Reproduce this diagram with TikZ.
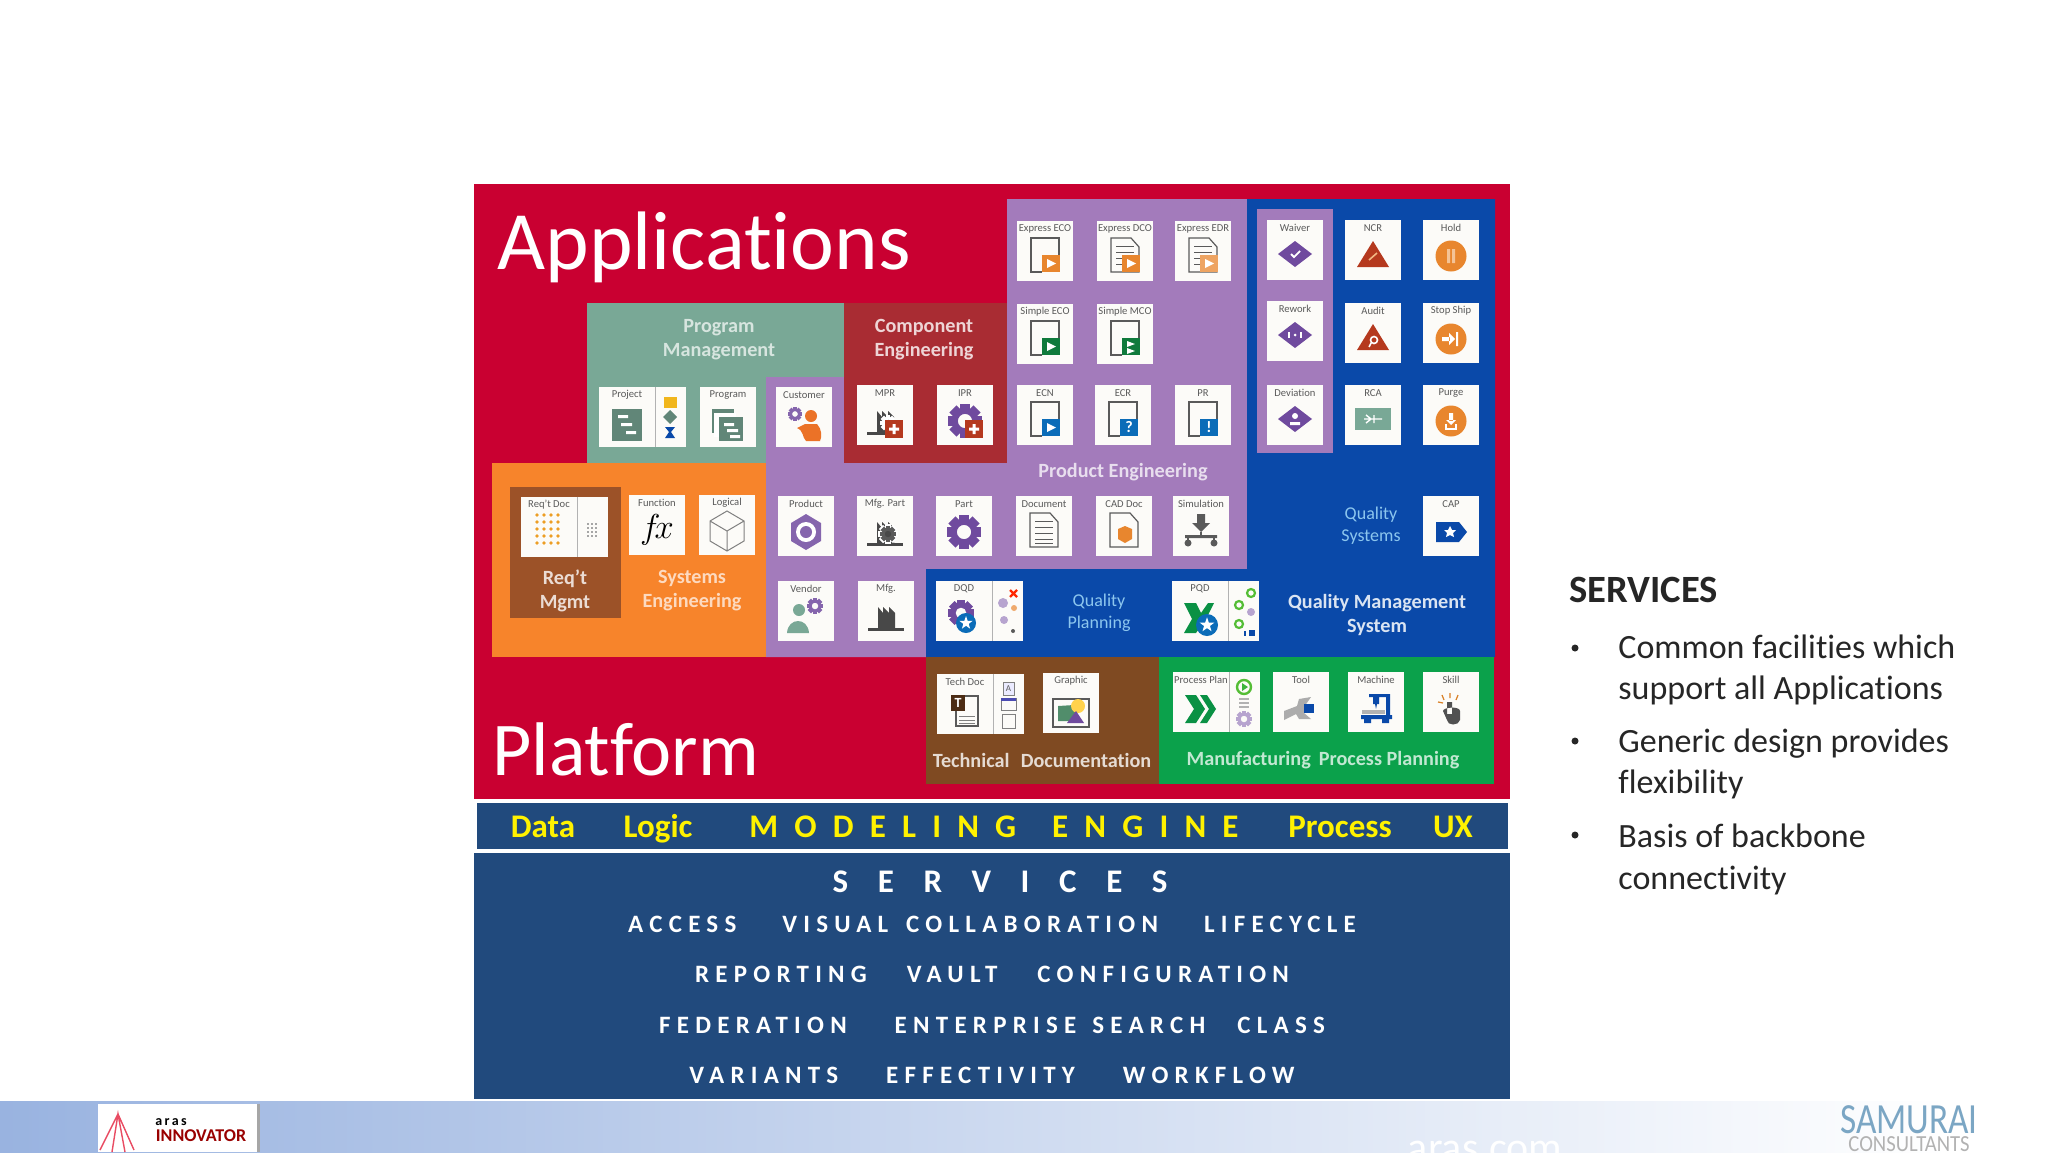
\documentclass[tikz,border=0pt]{standalone}
\usepackage{fontspec}
\setmainfont[Ligatures=NoCommon]{Carlito}
\newfontfamily\engfont[LetterSpace=49]{Carlito}
\newfontfamily\svcfont[LetterSpace=90]{Carlito}
\newfontfamily\itemfont[LetterSpace=25]{Carlito}
\usetikzlibrary{positioning}
\definecolor{appred}{HTML}{C90031}
\definecolor{pmgreen}{HTML}{79A896}
\definecolor{cered}{HTML}{A92C33}
\definecolor{pepurple}{HTML}{A37BBB}
\definecolor{qmblue}{HTML}{0A49A9}
\definecolor{seorange}{HTML}{F7842B}
\definecolor{rqbrown}{HTML}{9C5228}
\definecolor{tdbrown}{HTML}{7F4A22}
\definecolor{mpgreen}{HTML}{0BA14B}
\definecolor{navy}{HTML}{214A7D}
\definecolor{icgray}{HTML}{5A5A5A}
\definecolor{icorange}{HTML}{E8862E}
\definecolor{icgreen}{HTML}{0F7A3C}
\definecolor{icblue}{HTML}{0B6CB8}
\definecolor{icpurple}{HTML}{6F4A9E}
\definecolor{icred}{HTML}{B5391E}
\definecolor{ictile}{HTML}{FCFBF8}
\definecolor{qmsoft}{HTML}{8CC6EE}
\definecolor{barleft}{HTML}{99B3E0}
\definecolor{barmid}{HTML}{C3D3F0}
\definecolor{samblue}{HTML}{7BA6C4}
\tikzset{
  tile/.style={fill=ictile,minimum width=28pt,minimum height=30pt,inner sep=0pt},
  strip/.style={fill=ictile,minimum height=30pt,inner sep=0pt},
  tilelab/.style={font=\fontsize{5.3}{6}\selectfont,text=icgray,inner sep=0pt},
  group/.style={font=\bfseries\fontsize{10.1}{12}\selectfont,align=center,inner sep=0pt},
  soft/.style={font=\fontsize{9}{11}\selectfont,align=center,text=qmsoft,inner sep=0pt},
  title/.style={text=white,anchor=base west,inner sep=0pt},
  band/.style={font=\bfseries\fontsize{16.5}{17}\selectfont,text=yellow,inner sep=0pt,anchor=base},
  svcline/.style={font=\itemfont\bfseries\fontsize{12.5}{13}\selectfont,text=white,inner sep=0pt},
  body/.style={font=\fontsize{17}{20}\selectfont,text=black!85,anchor=base west,inner sep=0pt},
  sheet/.style={icgray,line width=.6pt},
}
\newcommand{\gear}[4]{\begin{scope}[shift={(#1,#2)}]\foreach \g in {0,45,...,315}\fill[#4,rotate=\g] (-.3*#3,-#3) rectangle (.3*#3,-.6*#3);\fill[#4,even odd rule] (0,0) circle[radius=.78*#3] (0,0) circle[radius=.42*#3];\end{scope}}
\newcommand{\plus}[3]{\fill[icred] (#1-9,#2-9) rectangle (#1+9,#2+9);\fill[white] (#1-5,#2-1.5) rectangle (#1+5,#2+1.5) (#1-1.5,#2-5) rectangle (#1+1.5,#2+5);}
\newcommand{\starmark}[4]{\begin{scope}[shift={(#1,#2)}]\fill[icblue] (0,0) circle[radius=#3];\fill[#4] (-90:.7*#3)--(-54:.28*#3)--(-18:.7*#3)--(18:.28*#3)--(54:.7*#3)--(90:.28*#3)--(126:.7*#3)--(162:.28*#3)--(198:.7*#3)--(234:.28*#3)--cycle;\end{scope}}
\newcommand{\openSheet}{\draw[sheet] (-3,15)--(-14,15)--(-14,-19)--(14,-19)--(14,-2);}
\newcommand{\lineSheet}{\draw[sheet] (-14,-19)--(6,-19)--(14,-10)--(14,15)--(-14,15)--cycle;\foreach \l in {-11,-5,1,7}\draw[sheet,line width=.4pt] (-9,\l)--(9,\l);}
\newcommand{\play}{\fill[white] (2,2)--(11,6.5)--(2,11)--cycle;}
\newcommand{\factory}[1]{\fill[#1] (-18,11) rectangle (18,14);\fill[#1] (-8,11)--(-8,-10)--(-3,-4)--(-3,-10)--(3,-4)--(3,-10)--(9,-4)--(9,11)--cycle;}
\newcommand{\icEcoO}{\openSheet\fill[icorange] (-3,-2) rectangle (15,15);\play}
\newcommand{\icEcoG}{\openSheet\fill[icgreen] (-3,-2) rectangle (15,15);\play}
\newcommand{\icMco}{\openSheet\fill[icgreen] (-3,-2) rectangle (15,15);\fill[white] (2,1)--(10,4)--(2,7)--cycle (2,8)--(10,11)--(2,14)--cycle;}
\newcommand{\icEcoB}{\openSheet\fill[icblue] (-3,-2) rectangle (15,15);\play}
\newcommand{\icEcr}{\openSheet\fill[icblue] (-3,-2) rectangle (15,15);\node[text=white,font=\bfseries\fontsize{8}{8}\selectfont,inner sep=0pt] (\n q) at (6,6.5){?};}
\newcommand{\icPr}{\openSheet\fill[icblue] (-3,-2) rectangle (15,15);\node[text=white,font=\bfseries\fontsize{8}{8}\selectfont,inner sep=0pt] (\n q) at (6,6.5){!};}
\newcommand{\icDco}{\lineSheet\fill[icorange] (-3,-2) rectangle (15,15);\play}
\newcommand{\icEdr}{\lineSheet\fill[icorange!75!white] (-3,-2) rectangle (15,15);\play}
\newcommand{\icDoc}{\lineSheet\draw[sheet,line width=.4pt] (-9,11)--(9,11);}
\newcommand{\icCad}{\draw[sheet] (-14,-19)--(6,-19)--(14,-10)--(14,15)--(-14,15)--cycle;\fill[icorange] (-6,-3)--(1,-6)--(8,-3)--(8,7)--(1,11)--(-6,7)--cycle;}
\newcommand{\diamondbase}{\fill[icpurple] (-17,-2)--(0,-15)--(17,-2)--(0,11)--cycle;}
\newcommand{\icWaiver}{\diamondbase\draw[white,line width=.9pt] (-4,-2)--(-1,1)--(5,-5);}
\newcommand{\icRework}{\diamondbase\draw[white,line width=.8pt] (-6,-5)--(-6,1) (6,-5)--(6,1);\fill[white] (0,-2) circle[radius=1.5];}
\newcommand{\icDev}{\diamondbase\fill[white] (0,-5) circle[radius=3] (-5,1) rectangle (5,4);}
\newcommand{\icNcr}{\fill[icred] (-16,11)--(0,-15)--(16,11)--cycle;\draw[icorange!60!white,line width=.8pt] (-4,4)--(4,-3);}
\newcommand{\icAudit}{\fill[icred] (-16,11)--(0,-15)--(16,11)--cycle;\draw[white,line width=.8pt] (1,1) circle[radius=3.5] (-2,4)--(-4,8);}
\newcommand{\icHold}{\fill[icorange] (0,0) circle[radius=15.5];\fill[icorange!50!white] (-4,-7) rectangle (-1,7) (1,-7) rectangle (4,7);}
\newcommand{\icStop}{\fill[icorange] (0,0) circle[radius=15.5];\fill[white] (-9,-2) rectangle (-1,2) (-2,-6)--(4,0)--(-2,6)--cycle (5,-7) rectangle (7,7);}
\newcommand{\icPurge}{\fill[icorange] (0,0) circle[radius=15.5];\fill[white] (-2,-8) rectangle (2,0) (-5,-1)--(5,-1)--(0,4)--cycle;\draw[white,line width=.6pt] (-5,3)--(-5,8)--(5,8)--(5,3);}
\newcommand{\icRca}{\fill[pmgreen] (-18,-13) rectangle (18,9);\draw[white,line width=.7pt] (-9,-2)--(9,-2) (-7,-6)--(-2,-2)--(-7,2) (1,-6)--(1,2);}
\newcommand{\icProduct}{\fill[icpurple!85!white] (0,-18)--(15,-9)--(15,9)--(0,18)--(-15,9)--(-15,-9)--cycle;\fill[white] (0,0) circle[radius=10];\fill[icpurple!85!white] (0,0) circle[radius=6];}
\newcommand{\icPart}{\gear{0}{0}{17}{icpurple}}
\newcommand{\icMfgP}{\factory{icgray!80!black}\gear{3}{2}{10}{white}\gear{3}{2}{8}{icgray}}
\newcommand{\icMfg}{\factory{icgray!80!black}}
\newcommand{\icMpr}{\factory{icgray!80!black}\gear{3}{2}{8}{white}\plus{9}{8}{}}
\newcommand{\icIpr}{\gear{0}{0}{17}{icpurple}\plus{9}{8}{}}
\newcommand{\icVendor}{\fill[pmgreen] (-7,-7) circle[radius=6];\fill[pmgreen] (-19,16) .. controls (-18,0) and (2,0) .. (3,16)--cycle;\gear{9}{-11}{8}{icpurple!85!white}}
\newcommand{\icCustomer}{\gear{-9}{-9}{7}{icpurple!85!white}\fill[icorange!85!red] (7,-7) circle[radius=6];\fill[icorange!85!red] (-7,5)--(1,1)--(13,1) .. controls (18,6) and (18,14) .. (16,18)--(2,18) .. controls (-2,14) and (0,8) .. (-7,5)--cycle;}
\newcommand{\icFx}{\node[font=\bfseries\fontsize{19}{19}\selectfont,inner sep=0pt] (\n q) at (0,-1){$f\!x$};}
\newcommand{\icLogical}{\draw[gray,line width=.5pt] (0,-20)--(17,-10)--(17,10)--(0,20)--(-17,10)--(-17,-10)--cycle (-17,-10)--(0,0)--(17,-10) (0,0)--(0,20);}
\newcommand{\icSim}{\fill[icgray] (-4,-18) rectangle (4,-9) (-9,-9)--(9,-9)--(0,0)--cycle;\fill[icgray] (-16,3) rectangle (16,6) (-13,11) circle[radius=3.5] (13,11) circle[radius=3.5];\draw[icgray,line width=1pt] (0,0)--(0,4) (-13,5)--(-13,10) (13,5)--(13,10);}
\newcommand{\icCap}{\fill[qmblue] (-15,-10)--(8,-10)--(16,0)--(8,10)--(-15,10)--cycle;\fill[white] (-1,-6)--(1,-2)--(5,-2)--(2,1)--(3,5)--(-1,3)--(-5,5)--(-4,1)--(-7,-2)--(-3,-2)--cycle;}
\newcommand{\icDqd}{\gear{-3}{-4}{13}{icpurple}\starmark{2}{6}{10}{white}}
\newcommand{\icPqd}{\fill[mpgreen!90!black] (-16,-14)--(-4,-14)--(1,-4)--(8,-14)--(14,-14)--(6,2)--(-4,16)--(-16,16)--(-8,2)--cycle;\starmark{7}{8}{11}{white}}
\newcommand{\icTech}{\draw[sheet] (-9,-14) rectangle (13,16);\fill[tdbrown!60!black] (-14,-15) rectangle (0,1);\node[text=white,font=\bfseries\fontsize{7}{7}\selectfont,inner sep=0pt] (\n q) at (-7,-7){T};\foreach \l in {6,10,13}\draw[gray,line width=.3pt] (-6,\l)--(10,\l);}
\newcommand{\icGraphic}{\draw[icgray,line width=.7pt] (-18,-10) rectangle (18,18);\fill[mpgreen!40!gray] (-13,12)--(-13,-3)--(3,-4)--(5,12)--cycle;\fill[orange!50!yellow!70!white] (7,-3) circle[radius=7];\fill[icpurple] (-4,14)--(5,2)--(13,14)--cycle;}
\newcommand{\icPlan}{\fill[mpgreen!90!black] (-16,-13)--(-5,-13)--(4,1)--(-5,15)--(-16,15)--(-7,1)--cycle (-1,-13)--(6,-13)--(15,1)--(6,15)--(-1,15)--(8,1)--cycle;}
\newcommand{\icTool}{\fill[gray!65] (-17,12)--(-17,3)--(-4,-2)--(-2,-9)--(10,-11)--(3,-1)--(3,5)--(10,11)--(-2,11)--(-5,6)--cycle;\fill[qmblue] (3,-4) rectangle (13,5);}
\newcommand{\icMachine}{\fill[qmblue] (-7,-14) rectangle (14,-11) (10,-14) rectangle (14,10) (-3,-14) rectangle (3,-4) (-1,-4)--(1,-4)--(0,1)--cycle;\fill[gray!60] (-14,2) rectangle (9,6);\fill[qmblue] (-15,7) rectangle (16,11) (-12,11) rectangle (-5,15) (6,11) rectangle (13,15);}
\newcommand{\icSkill}{\fill[icgray!90!black] (-4,-6) rectangle (1,6) (-8,3) .. controls (-8,-1) and (9,-2) .. (9,3)--(9,12) .. controls (8,18) and (-4,18) .. (-4,12)--cycle;\draw[orange!70!gray,line width=.6pt] (-9,-13)--(-7,-8) (-1,-15)--(-1,-10) (7,-13)--(5,-8) (-13,-6)--(-8,-5);}
\newcommand{\icReq}{\foreach \p in {-12,-5,2,9}\foreach \q in {-12,-5,2,9,16}\fill[icorange!80!yellow] (\p,\q-6) circle[radius=1.8];}
\newcommand{\icProject}{\fill[pmgreen!80!black] (-15,-14) rectangle (15,18);\fill[white] (-9,-8) rectangle (1,-5) (-6,0) rectangle (5,3) (-1,8) rectangle (9,11);}
\newcommand{\icProgram}{\fill[pmgreen!80!black] (-16,-14) rectangle (6,10);\fill[white] (-14,-10) rectangle (8,14);\fill[pmgreen!80!black] (-9,-6) rectangle (15,18);\fill[white] (-4,0) rectangle (6,3) (-1,6) rectangle (10,9) (2,12) rectangle (12,15);}
\newcommand{\stProject}{\fill[icorange!60!yellow] (-6,-20) rectangle (7,-9);\fill[pmgreen!80!black] (0,-7)--(7,0)--(0,7)--(-7,0)--cycle;\fill[qmblue] (-5,10)--(5,10)--(1,15)--(5,21)--(-5,21)--(-1,15)--cycle;}
\newcommand{\stReq}{\foreach \p in {-4,0,4}\foreach \q in {-3,1,5,9}\fill[gray!70] (\p-1,\q-1) rectangle (\p+1,\q+1);}
\newcommand{\stDqd}{\draw[red!70!orange,line width=1.2pt] (3,-21)--(10,-14) (3,-14)--(10,-21);\fill[icpurple!50!white] (-4,-8) circle[radius=5] (-3,9) circle[radius=4];\fill[icorange!70!white] (7,-3) circle[radius=3];\fill[icgray] (6,20) circle[radius=2];}
\newcommand{\stTech}{\draw[gray,line width=.4pt,fill=blue!8] (-5,-22) rectangle (6,-9);\node[text=icgray,font=\fontsize{4.5}{5}\selectfont,inner sep=0pt] (\n s) at (.5,-15.5){A};\draw[gray,line width=.4pt] (-7,-6) rectangle (8,6);\fill[gray!60!blue] (-7,-6) rectangle (8,-3);\draw[gray,line width=.4pt] (-6,10) rectangle (7,24);}
\newcommand{\stPqd}{\draw[mpgreen!70!yellow,line width=1.1pt] (8,-18) circle[radius=4] (-4,-6) circle[radius=4] (-4,13) circle[radius=4];\fill[icpurple!50!white] (8,1) circle[radius=4];\fill[qmblue] (6,19) rectangle (12,25);\fill[qmblue] (1,20) rectangle (3,25);}
\newcommand{\stPlan}{\draw[mpgreen!70!yellow,line width=1.2pt] (0,-15) circle[radius=7];\fill[mpgreen!80!yellow] (-2,-19)--(4,-15)--(-2,-11)--cycle;\draw[gray!60,line width=.6pt] (-5,-3)--(5,-3) (-5,1)--(5,1) (-5,5)--(5,5);\gear{0}{17}{8}{icpurple!50!white}}
\begin{document}
\begin{tikzpicture}[x=.5pt,y=-.5pt]
\useasboundingbox (0,0) rectangle (2048,1152);
\fill[white] (0,0) rectangle (2048,1152);
\fill[appred] (474,184) rectangle (1510,799);
\fill[pmgreen] (587,303) rectangle (844,463);
\fill[cered] (844,303) rectangle (1007,463);
\fill[pepurple] (766,377) rectangle (844,463);
\fill[seorange] (492,463) rectangle (766,657);
\fill[pepurple] (766,463)--(1007,463)--(1007,199)--(1247,199)--(1247,569)--(926,569)--(926,657)--(766,657)--cycle;
\fill[qmblue] (1247,199)--(1495,199)--(1495,657)--(926,657)--(926,569)--(1247,569)--cycle;
\fill[pepurple] (1257,209) rectangle (1333,453);
\fill[rqbrown] (510,487) rectangle (621,618);
\fill[tdbrown] (926,657) rectangle (1159,784);
\fill[mpgreen] (1159,657) rectangle (1494,784);
\fill[navy] (477,803) rectangle (1508,849);
\fill[navy] (474,853) rectangle (1510,1099);
\shade[left color=barleft,middle color=barmid,right color=white] (0,1101) rectangle (1950,1152);
\node[title,font=\fontsize{41.5}{42}\selectfont] (apps) at (497,269.5){Applications};
\node[title,font=\fontsize{38}{39}\selectfont] (plat) at (492,775){Platform};
\foreach \n/\x/\y/\t/\i in {xeco/1045/251/Express ECO/EcoO,xdco/1125/251/Express DCO/Dco,xedr/1203/251/Express EDR/Edr,seco/1045/334/Simple ECO/EcoG,smco/1125/334/Simple MCO/Mco,ecn/1045/415/ECN/EcoB,ecr/1123/415/ECR/Ecr,pr/1203/415/PR/Pr,
  waiver/1295/250/Waiver/Waiver,rework/1295/331/Rework/Rework,deviation/1295/415/Deviation/Dev,ncr/1373/250/NCR/Ncr,audit/1373/333/Audit/Audit,rca/1373/415/RCA/Rca,hold/1451/250/Hold/Hold,stopship/1451/333/Stop Ship/Stop,purge/1451/415/Purge/Purge,
  document/1044/526/Document/Doc,caddoc/1124/526/CAD Doc/Cad,simulation/1201/526/Simulation/Sim,cap/1451/526/CAP/Cap,
  product/806/526/Product/Product,mfgpart/885/526/Mfg. Part/MfgP,part/964/526/Part/Part,vendor/806/611/Vendor/Vendor,mfg/886/611/Mfg./Mfg,
  function/657/525/Function/Fx,logical/727/525/Logical/Logical,program/728/417/Program/Program,customer/804/417/Customer/Customer,mpr/885/415/MPR/Mpr,ipr/965/415/IPR/Ipr,
  graphic/1071/703/Graphic/Graphic,tool/1301/702/Tool/Tool,machine/1376/702/Machine/Machine,skill/1451/702/Skill/Skill}{
  \node[tile] (\n) at (\x,\y){};
  \node[tilelab] (\n lab) at (\x,\y-22){\t};
  \begin{scope}[shift={(\x,\y+6)}]\csname ic\i\endcsname\end{scope}
}
\foreach \n/\x/\y/\t/\i/\s in {project/627/417/Project/Project/Project,reqdoc/549/527/Req't Doc/Req/Req,dqd/964/611/DQD/Dqd/Dqd,techdoc/965/704/Tech Doc/Tech/Tech,pqd/1200/611/PQD/Pqd/Pqd,plan/1201/702/Process Plan/Plan/Plan}{
  \node[tile] (\n) at (\x,\y){};
  \node[strip,minimum width=15pt,right=0pt of \n] (\n st) {};
  \draw[gray!60,line width=.3pt] (\n.north east)--(\n.south east);
  \node[tilelab] (\n lab) at (\x,\y-22){\t};
  \begin{scope}[shift={(\x,\y+6)}]\csname ic\i\endcsname\end{scope}
  \begin{scope}[shift={(\x+43,\y)}]\csname st\s\endcsname\end{scope}
}
\node[group,text=pmgreen!30!white] (pmlab) at (719,340){Program\\Management};
\node[group,text=cered!20!white] (celab) at (924,340){Component\\Engineering};
\node[group,text=pepurple!25!white] (pelab) at (1123,472){Product Engineering};
\node[group,text=rqbrown!20!white] (rqlab) at (565,590.5){Req’t\\Mgmt};
\node[group,text=seorange!30!white] (selab) at (692,590.5){Systems\\Engineering};
\node[soft] (qplab) at (1099,612.5){Quality\\Planning};
\node[soft] (qslab) at (1371,526){Quality\\Systems};
\node[group,text=qmblue!15!white] (qmlab) at (1377,614.5){Quality Management\\System};
\node[group,text=tdbrown!20!white] (tdlab) at (1042,760){Technical\,\, Documentation};
\node[group,text=mpgreen!25!white] (mplab) at (1323,760){Manufacturing\, Process Planning};
\node[band] (data) at (543,837){Data};
\node[band] (logic) at (658,837){Logic};
\node[band,font=\engfont\bfseries\fontsize{16.5}{17}\selectfont] (engine) at (994,837){MODELING\hspace{18pt}ENGINE};
\node[band] (process) at (1340,837){Process};
\node[band] (ux) at (1453,837){UX};
\node[band,text=white,font=\svcfont\bfseries\fontsize{16.5}{17}\selectfont] (svc) at (1000,892){SERVICES};
\node[svcline] (svca) at (992,924){ACCESS\hspace{23pt}VISUAL \hspace{3pt}COLLABORATION\hspace{23pt}LIFECYCLE};
\node[svcline] (svcb) at (992,974){REPORTING\hspace{20pt}VAULT\hspace{20pt}CONFIGURATION};
\node[svcline] (svcc) at (992,1025){FEDERATION\hspace{24pt}ENTERPRISE \hspace{2pt}SEARCH\hspace{16pt}CLASS};
\node[svcline] (svcd) at (992,1075){VARIANTS\hspace{24pt}EFFECTIVITY\hspace{24pt}WORKFLOW};
\node[body,font=\bfseries\fontsize{19.3}{20}\selectfont] (head) at (1569,602){SERVICES};
\foreach \n/\y/\t in {la/658/Common facilities which,lb/699/support all Applications,lc/752/Generic design provides,ld/793/flexibility,le/847/Basis of backbone,lf/889/connectivity}
  \node[body] (\n) at (1618,\y){\t};
\foreach \n/\y in {bulla/648,bullb/741,bullc/835}
  \fill[black!85] (1575,\y) circle[radius=3.5];
\fill[gray!70] (257,1104) rectangle (260,1152);
\fill[white] (98,1104) rectangle (257,1152);
\draw[red!50!purple!70!white,line width=.7pt] (112,1152)--(118,1114)--(125,1152) (100,1150)--(118,1114)--(134,1150);
\node[font=\bfseries\fontsize{7}{7}\selectfont,inner sep=0pt] (aras) at (171,1122){a\,r\,a\,s};
\node[font=\bfseries\fontsize{9}{9}\selectfont,text=red!60!black,inner sep=0pt] (innov) at (201,1136){INNOVATOR};
\begin{scope}
\clip (0,1100) rectangle (2048,1152);
\node[font=\fontsize{21}{21}\selectfont,text=white,anchor=base,inner sep=0pt] (aras com) at (1485,1161){aras.com};
\end{scope}
\node[text=samblue,inner sep=0pt,anchor=base] (samurai) at (1909,1133){\scalebox{.82}[1]{\fontsize{21.5}{22}\selectfont SAMURAI}};
\node[text=gray!60,inner sep=0pt,anchor=base] (consult) at (1909,1151){\scalebox{.9}[1]{\fontsize{11.5}{12}\selectfont CONSULTANTS}};
\end{tikzpicture}
\end{document}
